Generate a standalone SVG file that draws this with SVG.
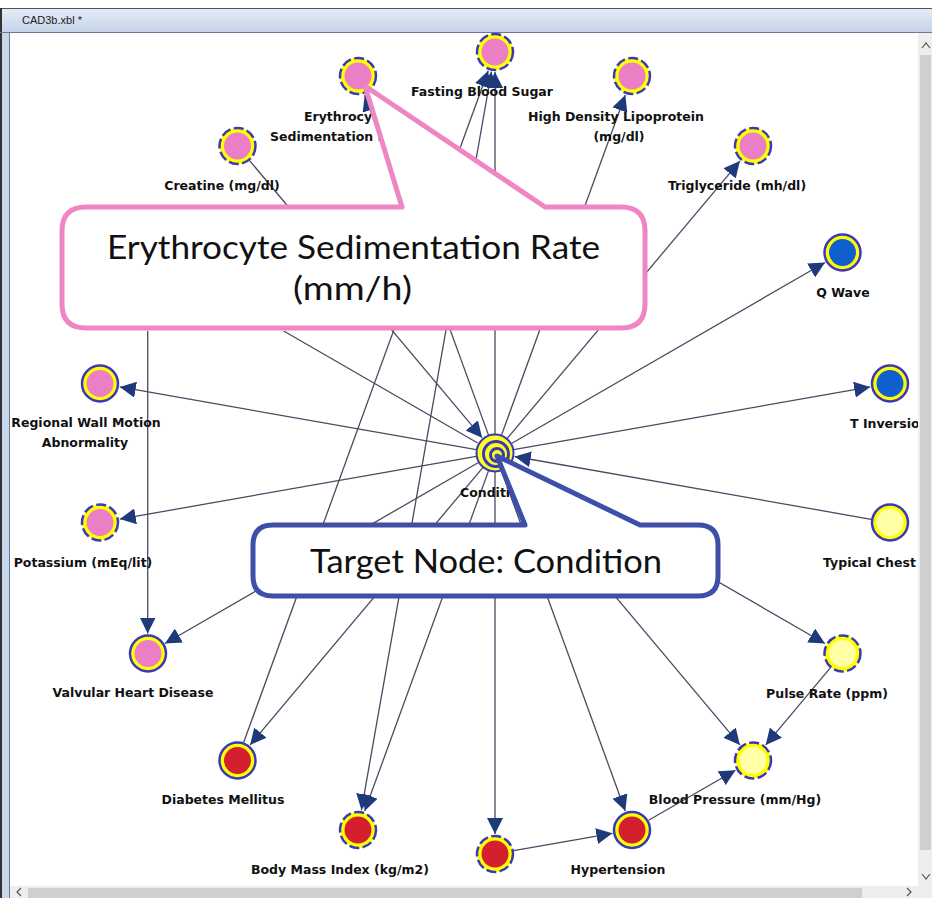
<svg xmlns="http://www.w3.org/2000/svg" width="932" height="898" viewBox="0 0 932 898">
<defs>
<linearGradient id="tbar" x1="0" y1="0" x2="0" y2="1"><stop offset="0" stop-color="#e6edf8"/><stop offset="1" stop-color="#c5d3e9"/></linearGradient>
<marker id="arr" markerUnits="userSpaceOnUse" markerWidth="17" markerHeight="16" refX="16" refY="8" orient="auto-start-reverse" viewBox="0 0 17 16"><path d="M0,0 L16,8 L0,16 Z" fill="#1f3a7a"/></marker>
<style>
.edge{stroke:#4a4a62;stroke-width:1.3;fill:none}
.ring{fill:#ffff00;stroke:#3a3ab8;stroke-width:2.5}
.dash{stroke-dasharray:10 3.4}
.pink{fill:#ea7fc6}
.blue{fill:#0f5fcf}
.lyel{fill:#ffffa6}
.red{fill:#d41f2e}
.lbl{font-family:"DejaVu Sans","Liberation Sans",sans-serif;font-weight:bold;font-size:12.5px;fill:#111}
.mid{text-anchor:middle}
.big{font-family:Lato,"Open Sans",sans-serif;font-size:33px;fill:#111}
</style>
</defs>
<rect x="0" y="0" width="932" height="898" fill="#ffffff"/>
<g id="chrome">
<rect x="0" y="8" width="932" height="24" fill="url(#tbar)"/>
<line x1="0" y1="8.5" x2="932" y2="8.5" stroke="#555" stroke-width="1"/>
<text x="22" y="24" font-family="Liberation Sans,sans-serif" font-size="11" fill="#222">CAD3b.xbl *</text>
<rect x="0" y="32" width="10" height="866" fill="#c9d7ec"/>
<line x1="1" y1="8" x2="1" y2="898" stroke="#333" stroke-width="2"/>
<line x1="9.5" y1="32" x2="9.5" y2="898" stroke="#6a7a95" stroke-width="1"/>
<line x1="0" y1="32.5" x2="932" y2="32.5" stroke="#6a7a95" stroke-width="1"/>
</g>
<g id="connectors">
<line class="edge" x1="495" y1="434" x2="495" y2="72" marker-end="url(#arr)"/>
<line class="edge" x1="488.5" y1="435.1" x2="364.7" y2="95" marker-end="url(#arr)"/>
<line class="edge" x1="501.5" y1="435.1" x2="625.3" y2="95" marker-end="url(#arr)"/>
<line class="edge" x1="249.4" y1="160.4" x2="482.1" y2="437.7" marker-end="url(#arr)"/>
<line class="edge" x1="507.2" y1="438.4" x2="739.9" y2="161.1" marker-end="url(#arr)"/>
<line class="edge" x1="511.5" y1="443.5" x2="825" y2="262.5" marker-end="url(#arr)"/>
<line class="edge" x1="513.7" y1="449.7" x2="870.2" y2="386.9" marker-end="url(#arr)"/>
<line class="edge" x1="871.2" y1="519.3" x2="514.7" y2="456.5" marker-end="url(#arr)"/>
<line class="edge" x1="511.5" y1="462.5" x2="825" y2="643.5" marker-end="url(#arr)"/>
<line class="edge" x1="507.2" y1="467.6" x2="739.9" y2="744.9" marker-end="url(#arr)"/>
<line class="edge" x1="501.5" y1="470.9" x2="625.3" y2="811" marker-end="url(#arr)"/>
<line class="edge" x1="495" y1="472" x2="495" y2="834" marker-end="url(#arr)"/>
<line class="edge" x1="488.5" y1="470.9" x2="364.7" y2="811" marker-end="url(#arr)"/>
<line class="edge" x1="482.8" y1="467.6" x2="250.1" y2="744.9" marker-end="url(#arr)"/>
<line class="edge" x1="478.5" y1="462.5" x2="165" y2="643.5" marker-end="url(#arr)"/>
<line class="edge" x1="476.3" y1="456.3" x2="119.8" y2="519.1" marker-end="url(#arr)"/>
<line class="edge" x1="476.3" y1="449.7" x2="119.8" y2="386.9" marker-end="url(#arr)"/>
<line class="edge" x1="283.7" y1="331" x2="477.7" y2="443"/>
<line class="edge" x1="147.7" y1="331" x2="147.7" y2="633.5" marker-end="url(#arr)"/>
<line class="edge" x1="243.7" y1="742.3" x2="488.2" y2="70.8" marker-end="url(#arr)"/>
<line class="edge" x1="361.4" y1="810.1" x2="491.5" y2="71.7" marker-start="url(#arr)" marker-end="url(#arr)"/>
<line class="edge" x1="513.7" y1="850.7" x2="612.4" y2="833.3" marker-end="url(#arr)"/>
<line class="edge" x1="648.6" y1="820.3" x2="735.5" y2="770.2" marker-end="url(#arr)"/>
<line class="edge" x1="830.1" y1="668.1" x2="765.7" y2="744.9" marker-end="url(#arr)"/>
</g>
<g id="n-fbs"><circle class="ring dash" cx="495" cy="52" r="18"/><circle class="pink" cx="495" cy="52" r="13.5"/><text class="lbl mid" x="482" y="96">Fasting Blood Sugar</text></g>
<g id="n-esr"><circle class="ring dash" cx="358" cy="76" r="18"/><circle class="pink" cx="358" cy="76" r="13.5"/><text class="lbl" x="304" y="121">Erythrocyte</text><text class="lbl" x="270" y="141">Sedimentation Rate</text></g>
<g id="n-hdl"><circle class="ring dash" cx="632" cy="76" r="18"/><circle class="pink" cx="632" cy="76" r="13.5"/><text class="lbl mid" x="616" y="121">High Density Lipoprotein</text><text class="lbl mid" x="619" y="141">(mg/dl)</text></g>
<g id="n-creatine"><circle class="ring dash" cx="237.5" cy="146" r="18"/><circle class="pink" cx="237.5" cy="146" r="13.5"/><text class="lbl mid" x="222" y="190">Creatine (mg/dl)</text></g>
<g id="n-tri"><circle class="ring dash" cx="753" cy="146" r="18"/><circle class="pink" cx="753" cy="146" r="13.5"/><text class="lbl mid" x="737" y="190">Triglyceride (mh/dl)</text></g>
<g id="n-qwave"><circle class="ring" cx="842.5" cy="252.5" r="18"/><circle class="blue" cx="842.5" cy="252.5" r="13.5"/><text class="lbl mid" x="843" y="297">Q Wave</text></g>
<g id="n-rwm"><circle class="ring" cx="100" cy="383.5" r="18"/><circle class="pink" cx="100" cy="383.5" r="13.5"/><text class="lbl mid" x="86" y="427">Regional Wall Motion</text><text class="lbl mid" x="85" y="447">Abnormality</text></g>
<g id="n-tinv"><circle class="ring" cx="890" cy="383.5" r="18"/><circle class="blue" cx="890" cy="383.5" r="13.5"/><text class="lbl" x="850" y="428">T Inversion</text></g>
<g id="n-potassium"><circle class="ring dash" cx="100" cy="522.5" r="18"/><circle class="pink" cx="100" cy="522.5" r="13.5"/><text class="lbl mid" x="83" y="567">Potassium (mEq/lit)</text></g>
<g id="n-typical"><circle class="ring" cx="890" cy="522.5" r="18"/><circle class="lyel" cx="890" cy="522.5" r="13.5"/><text class="lbl" x="823" y="567">Typical Chest</text></g>
<g id="n-valvular"><circle class="ring" cx="148" cy="653.5" r="18"/><circle class="pink" cx="148" cy="653.5" r="13.5"/><text class="lbl mid" x="133" y="697">Valvular Heart Disease</text></g>
<g id="n-pulse"><circle class="ring dash" cx="842.5" cy="653.5" r="18"/><circle class="lyel" cx="842.5" cy="653.5" r="13.5"/><text class="lbl mid" x="827" y="698">Pulse Rate (ppm)</text></g>
<g id="n-diabetes"><circle class="ring" cx="237.5" cy="760.5" r="18"/><circle class="red" cx="237.5" cy="760.5" r="13.5"/><text class="lbl mid" x="223" y="804">Diabetes Mellitus</text></g>
<g id="n-bp"><circle class="ring dash" cx="753" cy="760.5" r="18"/><circle class="lyel" cx="753" cy="760.5" r="13.5"/><text class="lbl mid" x="735" y="804">Blood Pressure (mm/Hg)</text></g>
<g id="n-bmi"><circle class="ring dash" cx="358" cy="830" r="18"/><circle class="red" cx="358" cy="830" r="13.5"/><text class="lbl mid" x="340" y="874">Body Mass Index (kg/m2)</text></g>
<g id="n-bottom"><circle class="ring dash" cx="495" cy="854" r="18"/><circle class="red" cx="495" cy="854" r="13.5"/></g>
<g id="n-hyper"><circle class="ring" cx="632" cy="830" r="18"/><circle class="red" cx="632" cy="830" r="13.5"/><text class="lbl mid" x="618" y="874">Hypertension</text></g>
<g id="n-condition">
<circle cx="495" cy="453" r="18.5" fill="#ffff20" stroke="#3a3ab8" stroke-width="2"/>
<circle cx="496" cy="454" r="12.5" fill="none" stroke="#3a3ab8" stroke-width="3"/>
<circle cx="497" cy="455" r="6.5" fill="none" stroke="#3a3ab8" stroke-width="3"/>
<circle cx="497.5" cy="455.5" r="2.2" fill="#ffff20"/>
<text class="lbl" x="460" y="497">Condition</text>
</g>
<g id="scrollbars">
<rect x="918" y="33" width="14" height="853" fill="#eeeeee"/>
<rect x="920" y="55" width="11" height="795" fill="#cfcfcf"/>
<polyline points="922,48 926,43 930,48" fill="none" stroke="#555" stroke-width="1.2"/>
<polyline points="922,874 926,879 930,874" fill="none" stroke="#555" stroke-width="1.2"/>
<rect x="10" y="886" width="922" height="12" fill="#eeeeee"/>
<rect x="28" y="888" width="834" height="10" fill="#cfcfcf"/>
<polyline points="21,888 17,892 21,896" fill="none" stroke="#555" stroke-width="1.2"/>
<polyline points="907,888 911,892 907,896" fill="none" stroke="#555" stroke-width="1.2"/>
</g>
<g id="callout-esr">
<path d="M86,207 L402,207 L365,86 L545,207 L621,207 Q645,207 645,231 L645,304 Q645,328 621,328 L86,328 Q62,328 62,304 L62,231 Q62,207 86,207 Z" fill="#ffffff" stroke="#ee86c3" stroke-width="5" stroke-linejoin="round"/>
<text class="big" x="107" y="259" textLength="493" lengthAdjust="spacingAndGlyphs">Erythrocyte Sedimentation Rate</text>
<text class="big" x="293" y="300" textLength="119" lengthAdjust="spacingAndGlyphs">(mm/h)</text>
</g>
<g id="callout-target">
<path d="M273,525 L525,525 L497,456 L640,525 L698,525 Q718,525 718,545 L718,576 Q718,596 698,596 L273,596 Q253,596 253,576 L253,545 Q253,525 273,525 Z" fill="#ffffff" stroke="#3d4fa8" stroke-width="5" stroke-linejoin="round"/>
<text class="big" x="310" y="573" textLength="352" lengthAdjust="spacingAndGlyphs">Target Node: Condition</text>
</g>
</svg>
